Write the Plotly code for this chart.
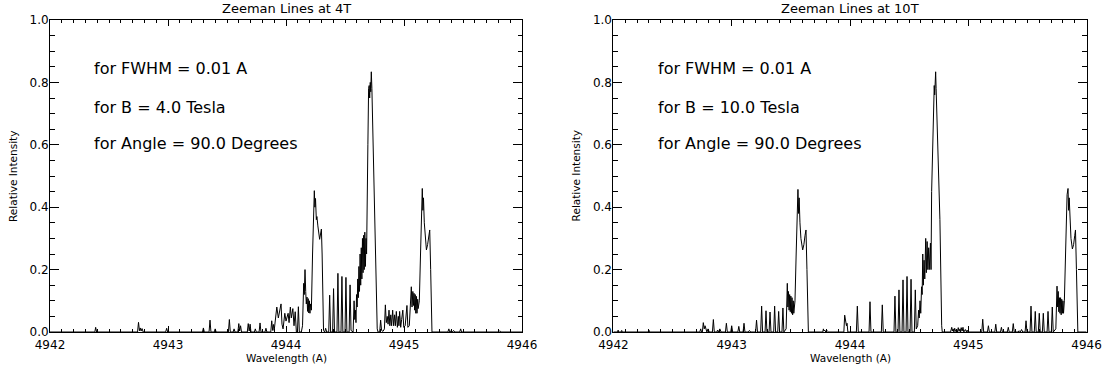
import plotly.graph_objects as go

# ---------------- data ----------------
titles = ["Zeeman Lines at 4T", "Zeeman Lines at 10T"]
notes_4t = ["for FWHM = 0.01 A", "for B = 4.0 Tesla", "for Angle = 90.0 Degrees"]
notes_10t = ["for FWHM = 0.01 A", "for B = 10.0 Tesla", "for Angle = 90.0 Degrees"]
x_ticks = [4942, 4943, 4944, 4945, 4946]
y_ticks = [0.0, 0.2, 0.4, 0.6, 0.8, 1.0]
x_label = "Wavelength (A)"
y_label = "Relative Intensity"

# spectrum at 4 T: (wavelength [A], relative intensity) vertices
spec_4t = [
    (4942.0, 0.0), (4942.38, 0.0), (4942.387, 0.015), (4942.395, 0.0),
    (4942.742, 0.0), (4942.75, 0.031), (4942.758, 0.004), (4942.765, 0.013), (4942.772, 0.003),
    (4942.78, 0.011), (4942.79, 0.0),
    (4942.98, 0.0), (4942.989, 0.012), (4942.997, 0.0),
    (4943.292, 0.0), (4943.30, 0.013), (4943.308, 0.0),
    (4943.348, 0.0), (4943.356, 0.038), (4943.364, 0.0),
    (4943.392, 0.0), (4943.40, 0.01), (4943.408, 0.0),
    (4943.512, 0.0), (4943.52, 0.04), (4943.528, 0.0),
    (4943.552, 0.0), (4943.56, 0.01), (4943.568, 0.0),
    (4943.592, 0.0), (4943.60, 0.027), (4943.607, 0.003), (4943.615, 0.02), (4943.623, 0.0),
    (4943.672, 0.0), (4943.68, 0.027), (4943.688, 0.003), (4943.696, 0.025), (4943.703, 0.0),
    (4943.732, 0.0), (4943.74, 0.01), (4943.748, 0.0),
    (4943.772, 0.0), (4943.78, 0.029), (4943.788, 0.0),
    (4943.822, 0.0), (4943.83, 0.012), (4943.838, 0.0),
    (4943.871, 0.0), (4943.879, 0.036), (4943.887, 0.005), (4943.894, 0.024), (4943.90, 0.005),
    (4943.922, 0.08), (4943.935, 0.045), (4943.958, 0.09), (4943.966, 0.025), (4943.975, 0.01),
    (4943.99, 0.06), (4944.0, 0.035), (4944.018, 0.06), (4944.026, 0.03), (4944.037, 0.08),
    (4944.045, 0.045), (4944.058, 0.075), (4944.068, 0.02), (4944.078, 0.065), (4944.088, 0.0),
    (4944.097, 0.0), (4944.105, 0.081), (4944.113, 0.0), (4944.13, 0.0),
    (4944.14, 0.02), (4944.15, 0.156), (4944.155, 0.12), (4944.161, 0.2), (4944.167, 0.13),
    (4944.172, 0.09), (4944.178, 0.112), (4944.183, 0.066), (4944.188, 0.107), (4944.193, 0.061),
    (4944.198, 0.1), (4944.203, 0.06), (4944.208, 0.09), (4944.215, 0.07), (4944.225, 0.25),
    (4944.234, 0.44), (4944.24, 0.453), (4944.245, 0.40), (4944.25, 0.428), (4944.257, 0.36),
    (4944.262, 0.37), (4944.27, 0.34), (4944.285, 0.297), (4944.3, 0.33), (4944.306, 0.25),
    (4944.318, 0.005), (4944.328, 0.0), (4944.336, 0.012), (4944.345, 0.0),
    (4944.362, 0.0), (4944.37, 0.118), (4944.378, 0.0),
    (4944.395, 0.0), (4944.403, 0.139), (4944.411, 0.0),
    (4944.432, 0.0), (4944.44, 0.188), (4944.448, 0.0),
    (4944.466, 0.0), (4944.474, 0.178), (4944.482, 0.0),
    (4944.50, 0.0), (4944.508, 0.175), (4944.516, 0.0),
    (4944.535, 0.0), (4944.543, 0.151), (4944.551, 0.005),
    (4944.569, 0.0), (4944.577, 0.1), (4944.583, 0.04), (4944.588, 0.07), (4944.593, 0.03),
    (4944.598, 0.12), (4944.603, 0.08), (4944.608, 0.17), (4944.613, 0.11), (4944.618, 0.21),
    (4944.623, 0.13), (4944.628, 0.25), (4944.633, 0.15), (4944.638, 0.27), (4944.643, 0.17),
    (4944.648, 0.30), (4944.653, 0.19), (4944.658, 0.31), (4944.663, 0.20), (4944.668, 0.32),
    (4944.673, 0.21), (4944.678, 0.30), (4944.683, 0.25), (4944.688, 0.54), (4944.694, 0.60),
    (4944.70, 0.78), (4944.705, 0.79), (4944.709, 0.75), (4944.714, 0.80), (4944.718, 0.77),
    (4944.723, 0.834), (4944.728, 0.78), (4944.735, 0.66), (4944.746, 0.52), (4944.76, 0.25),
    (4944.773, 0.01), (4944.78, 0.0), (4944.794, 0.0), (4944.802, 0.038), (4944.81, 0.005),
    (4944.822, 0.002), (4944.834, 0.01), (4944.842, 0.087), (4944.85, 0.03), (4944.858, 0.05),
    (4944.865, 0.025), (4944.873, 0.07), (4944.88, 0.02), (4944.888, 0.055), (4944.895, 0.02),
    (4944.904, 0.07), (4944.912, 0.02), (4944.92, 0.055), (4944.927, 0.02), (4944.935, 0.066),
    (4944.944, 0.015), (4944.952, 0.05), (4944.957, 0.02), (4944.963, 0.066), (4944.972, 0.015),
    (4944.98, 0.04), (4944.99, 0.07), (4944.998, 0.015), (4945.01, 0.02), (4945.025, 0.085),
    (4945.033, 0.015), (4945.045, 0.02), (4945.055, 0.1), (4945.062, 0.145), (4945.068, 0.08),
    (4945.075, 0.13), (4945.08, 0.085), (4945.085, 0.124), (4945.09, 0.07), (4945.095, 0.12),
    (4945.10, 0.06), (4945.106, 0.114), (4945.11, 0.06), (4945.116, 0.105), (4945.12, 0.075),
    (4945.13, 0.10), (4945.14, 0.25), (4945.15, 0.44), (4945.155, 0.46), (4945.16, 0.39),
    (4945.165, 0.43), (4945.172, 0.35), (4945.18, 0.30), (4945.19, 0.263), (4945.20, 0.28),
    (4945.21, 0.31), (4945.218, 0.327), (4945.226, 0.2), (4945.237, 0.0),
    (4945.372, 0.0), (4945.38, 0.01), (4945.388, 0.0), (4945.40, 0.004), (4945.41, 0.0),
    (4945.42, 0.005), (4945.43, 0.0), (4945.472, 0.0), (4945.48, 0.01), (4945.488, 0.0),
    (4945.80, 0.0), (4945.81, 0.004), (4945.82, 0.0), (4946.0, 0.0),
]

# spectrum at 10 T: (wavelength [A], relative intensity) vertices
spec_10t = [
    (4942.0, 0.0), (4942.035, 0.0), (4942.04, 0.006), (4942.045, 0.0),
    (4942.065, 0.0), (4942.07, 0.005), (4942.075, 0.0),
    (4942.295, 0.0), (4942.30, 0.006), (4942.305, 0.0),
    (4942.73, 0.0), (4942.738, 0.01), (4942.745, 0.0), (4942.752, 0.0), (4942.76, 0.03),
    (4942.768, 0.01), (4942.775, 0.02), (4942.783, 0.005), (4942.79, 0.0), (4942.80, 0.01),
    (4942.81, 0.0),
    (4942.837, 0.0), (4942.845, 0.04), (4942.853, 0.0),
    (4942.875, 0.0), (4942.88, 0.006), (4942.888, 0.0), (4942.90, 0.01), (4942.91, 0.0),
    (4942.947, 0.0), (4942.955, 0.028), (4942.963, 0.0),
    (4942.992, 0.0), (4943.0, 0.02), (4943.008, 0.0),
    (4943.052, 0.0), (4943.06, 0.018), (4943.068, 0.0),
    (4943.096, 0.0), (4943.104, 0.028), (4943.112, 0.0),
    (4943.14, 0.0), (4943.15, 0.005), (4943.16, 0.0),
    (4943.202, 0.0), (4943.21, 0.038), (4943.218, 0.0),
    (4943.245, 0.0), (4943.253, 0.083), (4943.261, 0.0),
    (4943.282, 0.0), (4943.29, 0.068), (4943.298, 0.0),
    (4943.316, 0.0), (4943.324, 0.064), (4943.332, 0.0),
    (4943.355, 0.0), (4943.363, 0.083), (4943.371, 0.0),
    (4943.389, 0.0), (4943.397, 0.066), (4943.405, 0.0),
    (4943.425, 0.0), (4943.433, 0.077), (4943.441, 0.0),
    (4943.46, 0.01), (4943.47, 0.156), (4943.475, 0.08), (4943.48, 0.13), (4943.485, 0.07),
    (4943.49, 0.12), (4943.495, 0.065), (4943.50, 0.115), (4943.505, 0.06), (4943.51, 0.11),
    (4943.515, 0.055), (4943.52, 0.10), (4943.525, 0.06), (4943.535, 0.10), (4943.545, 0.25),
    (4943.555, 0.44), (4943.56, 0.457), (4943.565, 0.38), (4943.57, 0.43), (4943.577, 0.35),
    (4943.585, 0.30), (4943.60, 0.263), (4943.61, 0.28), (4943.62, 0.31), (4943.628, 0.327),
    (4943.636, 0.2), (4943.648, 0.0),
    (4943.77, 0.0), (4943.775, 0.01), (4943.78, 0.003), (4943.787, 0.006), (4943.795, 0.0),
    (4943.81, 0.003), (4943.82, 0.0),
    (4943.948, 0.0), (4943.955, 0.054), (4943.96, 0.035), (4943.965, 0.04), (4943.97, 0.02),
    (4943.975, 0.028), (4943.982, 0.0),
    (4944.054, 0.0), (4944.062, 0.083), (4944.07, 0.0),
    (4944.161, 0.0), (4944.169, 0.097), (4944.177, 0.0),
    (4944.265, 0.0), (4944.273, 0.087), (4944.281, 0.0),
    (4944.372, 0.0), (4944.38, 0.115), (4944.388, 0.0),
    (4944.406, 0.0), (4944.414, 0.135), (4944.422, 0.0),
    (4944.44, 0.0), (4944.448, 0.167), (4944.456, 0.0),
    (4944.474, 0.0), (4944.482, 0.178), (4944.49, 0.0),
    (4944.508, 0.0), (4944.516, 0.169), (4944.524, 0.0),
    (4944.544, 0.0), (4944.552, 0.135), (4944.56, 0.01),
    (4944.572, 0.02), (4944.58, 0.07), (4944.585, 0.045), (4944.592, 0.10), (4944.598, 0.06),
    (4944.605, 0.145), (4944.61, 0.12), (4944.615, 0.25), (4944.62, 0.15), (4944.626, 0.23),
    (4944.632, 0.17), (4944.64, 0.30), (4944.645, 0.19), (4944.652, 0.29), (4944.658, 0.20),
    (4944.665, 0.27), (4944.67, 0.20), (4944.68, 0.285), (4944.685, 0.20), (4944.69, 0.45),
    (4944.695, 0.54), (4944.702, 0.60), (4944.708, 0.786), (4944.712, 0.79), (4944.716, 0.76),
    (4944.72, 0.80), (4944.724, 0.834), (4944.728, 0.78), (4944.735, 0.68), (4944.746, 0.52),
    (4944.76, 0.36), (4944.775, 0.02), (4944.78, 0.0),
    (4944.85, 0.0), (4944.86, 0.015), (4944.866, 0.003), (4944.872, 0.01), (4944.878, 0.0),
    (4944.885, 0.012), (4944.892, 0.002), (4944.90, 0.008), (4944.908, 0.0), (4944.915, 0.014),
    (4944.922, 0.002), (4944.93, 0.01), (4944.935, 0.0), (4944.94, 0.014), (4944.948, 0.003),
    (4944.955, 0.015), (4944.962, 0.0), (4944.975, 0.008), (4944.985, 0.0), (4944.99, 0.006),
    (4944.998, 0.0),
    (4945.114, 0.0), (4945.122, 0.041), (4945.13, 0.0),
    (4945.162, 0.0), (4945.17, 0.02), (4945.178, 0.0),
    (4945.224, 0.0), (4945.232, 0.025), (4945.24, 0.0),
    (4945.272, 0.0), (4945.28, 0.015), (4945.288, 0.0),
    (4945.33, 0.0), (4945.338, 0.015), (4945.346, 0.0),
    (4945.372, 0.0), (4945.38, 0.027), (4945.388, 0.0),
    (4945.42, 0.0), (4945.43, 0.004), (4945.44, 0.0), (4945.45, 0.008), (4945.46, 0.0),
    (4945.48, 0.0), (4945.488, 0.036), (4945.496, 0.0),
    (4945.522, 0.0), (4945.53, 0.083), (4945.538, 0.0),
    (4945.558, 0.0), (4945.566, 0.066), (4945.574, 0.0),
    (4945.592, 0.0), (4945.60, 0.06), (4945.608, 0.0),
    (4945.626, 0.0), (4945.634, 0.06), (4945.642, 0.0),
    (4945.666, 0.0), (4945.674, 0.066), (4945.682, 0.0),
    (4945.702, 0.0), (4945.71, 0.08), (4945.718, 0.0),
    (4945.74, 0.01), (4945.75, 0.147), (4945.755, 0.08), (4945.76, 0.13), (4945.765, 0.065),
    (4945.77, 0.11), (4945.775, 0.06), (4945.78, 0.11), (4945.785, 0.055), (4945.79, 0.105),
    (4945.795, 0.06), (4945.80, 0.10), (4945.805, 0.06), (4945.812, 0.10), (4945.822, 0.25),
    (4945.835, 0.44), (4945.843, 0.46), (4945.848, 0.39), (4945.853, 0.43), (4945.86, 0.35),
    (4945.868, 0.30), (4945.88, 0.266), (4945.89, 0.28), (4945.90, 0.31), (4945.906, 0.327),
    (4945.914, 0.2), (4945.926, 0.0), (4946.0, 0.0),
]

wl_4t = [p[0] for p in spec_4t]
int_4t = [p[1] for p in spec_4t]
wl_10t = [p[0] for p in spec_10t]
int_10t = [p[1] for p in spec_10t]

# ---------------- layout ----------------
W, H = 1115, 374
FONT = "DejaVu Sans"
INK = "#000000"

def px_x(px):
    return px / W

def px_y(py):
    return 1 - py / H

left_dom = [px_x(50), px_x(522)]
right_dom = [px_x(613.4), px_x(1086.6)]
y_dom = [px_y(332), px_y(20)]

fig = go.Figure()
fig.add_trace(go.Scatter(x=wl_4t, y=int_4t, mode="lines",
                         line=dict(color=INK, width=1), xaxis="x", yaxis="y",
                         showlegend=False, hoverinfo="skip"))
fig.add_trace(go.Scatter(x=wl_10t, y=int_10t, mode="lines",
                         line=dict(color=INK, width=1), xaxis="x2", yaxis="y2",
                         showlegend=False, hoverinfo="skip"))

def xaxis(dom, anchor):
    return dict(domain=dom, anchor=anchor, range=[x_ticks[0], x_ticks[-1]],
                automargin=False,
                tickvals=x_ticks, ticktext=[str(t) for t in x_ticks],
                ticks="inside", ticklen=6, tickwidth=1, tickcolor=INK,
                showline=True, linecolor=INK, linewidth=1, mirror="ticks",
                showgrid=False, zeroline=False,
                minor=dict(dtick=0.1, ticks="inside", ticklen=3, tickwidth=1,
                           tickcolor=INK, showgrid=False),
                tickfont=dict(family=FONT, size=12, color=INK),
                ticklabelstandoff=2)

def yaxis(anchor):
    return dict(domain=y_dom, anchor=anchor, range=[0, 1],
                automargin=False,
                tickvals=y_ticks, ticktext=[f"{t:.1f}" for t in y_ticks],
                ticks="inside", ticklen=9, tickwidth=1, tickcolor=INK,
                showline=True, linecolor=INK, linewidth=1, mirror="ticks",
                showgrid=False, zeroline=False,
                minor=dict(dtick=0.05, ticks="inside", ticklen=4.5, tickwidth=1,
                           tickcolor=INK, showgrid=False),
                tickfont=dict(family=FONT, size=12, color=INK),
                ticklabelstandoff=-2)

annotations = []
for dom, title in zip([left_dom, right_dom], titles):
    cx = (dom[0] + dom[1]) / 2
    annotations.append(dict(text=title, x=cx, y=px_y(9), xref="paper", yref="paper",
                            xanchor="center", yanchor="middle", showarrow=False,
                            font=dict(family=FONT, size=13, color=INK)))
    annotations.append(dict(text=x_label, x=cx, y=px_y(358), xref="paper", yref="paper",
                            xanchor="center", yanchor="middle", showarrow=False,
                            font=dict(family=FONT, size=10.5, color=INK)))
    annotations.append(dict(text=y_label, x=dom[0] - px_x(37), y=(y_dom[0] + y_dom[1]) / 2,
                            xref="paper", yref="paper", textangle=-90,
                            xanchor="center", yanchor="middle", showarrow=False,
                            font=dict(family=FONT, size=10.5, color=INK)))

note_y = [0.843, 0.721, 0.603]
for xr, yr, notes in [("x", "y", notes_4t), ("x2", "y2", notes_10t)]:
    for txt, yy in zip(notes, note_y):
        annotations.append(dict(text=txt, x=4942.356, y=yy, xref=xr, yref=yr,
                                xanchor="left", yanchor="middle", showarrow=False,
                                font=dict(family=FONT, size=16, color=INK)))

fig.update_layout(
    width=W, height=H,
    margin=dict(l=0, r=0, t=0, b=0, autoexpand=False),
    paper_bgcolor="white", plot_bgcolor="white",
    xaxis=xaxis(left_dom, "y"), yaxis=yaxis("x"),
    xaxis2=xaxis(right_dom, "y2"), yaxis2=yaxis("x2"),
    annotations=annotations,
    showlegend=False,
)

fig.write_html(
    "out.html",
    config={"displayModeBar": False},
    post_script="document.body.style.margin='0';document.body.style.overflow='hidden';",
)
